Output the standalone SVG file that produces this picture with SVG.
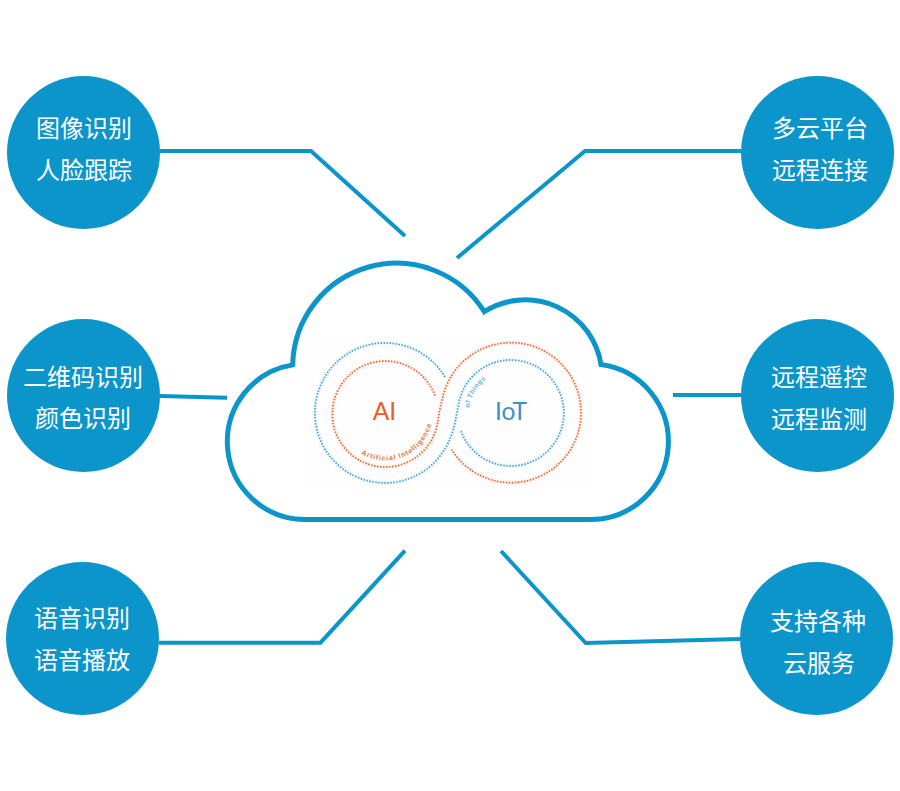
<svg xmlns="http://www.w3.org/2000/svg" xmlns:xlink="http://www.w3.org/1999/xlink" width="900" height="791" viewBox="0 0 900 791">
<style>
.node{fill:#0b95ca}
.lbl{fill:#fff;font-family:"Noto Sans CJK SC","Noto Sans",sans-serif;font-size:24px;text-anchor:middle}
.conn{fill:none;stroke:#0b95ca;stroke-width:4}
.dot{fill:none;stroke-width:1.700;stroke-dasharray:1.500 1.500}
.glow{fill:none;stroke-width:5;opacity:.06}
.or{stroke:#f0602a}
.bl{stroke:#3e9fd8}
.big{font-family:Lato,"Open Sans",sans-serif;font-size:24.500px;text-anchor:middle}
.arc{font-family:"Liberation Sans",sans-serif;font-weight:bold;font-size:7px}
</style>
<defs>
<path id="blueS" d="M445 377A70 70 0 1 0 451 436C455 427 456 416 458.300 406A53 53 0 1 1 461 431"/>
<path id="orangeS" d="M435 395.500A53 53 0 1 0 438 420C439 412 441 404 443 396A70 70 0 1 1 451.500 449.500"/>
<path id="aiArc" d="M339.500 426A47.500 47.500 0 0 0 432 405"/>
<path id="iotArc" d="M469 413A42 42 0 0 1 505 371.500"/>
</defs>
<rect width="900" height="791" fill="#fff"/>
<g id="connectors">
<path class="conn" d="M160 151H311L405 236"/>
<path class="conn" d="M741 151H585L457 258"/>
<path class="conn" d="M160 396L227 397.700"/>
<path class="conn" d="M741 395H673"/>
<path class="conn" d="M159 642.700H320.500L405 550.700"/>
<path class="conn" d="M501 551L585.700 643L740 639"/>
</g>
<g id="cloud">
<rect x="300" y="338" width="293" height="150" fill="#fefefe"/>
<path d="M305 519.500A77.800 77.800 0 0 1 292.700 364.900A103.800 103.800 0 0 1 484.300 311.700A76.700 76.700 0 0 1 601 364.600A77.800 77.800 0 0 1 590.500 519.500Z" fill="none" stroke="#0b95ca" stroke-width="5"/>
</g>
<g id="ai-iot">
<use xlink:href="#blueS" class="glow bl"/>
<use xlink:href="#orangeS" class="glow or"/>
<use xlink:href="#blueS" class="dot bl"/>
<use xlink:href="#orangeS" class="dot or"/>
<text class="big" x="384.500" y="419.500" fill="#ef5a24">AI</text>
<text class="big" x="511" y="419.500" fill="#3e8fc9">IoT</text>
<text class="arc" fill="#f0703a"><textPath xlink:href="#aiArc" startOffset="36" textLength="88" lengthAdjust="spacing">Artificial Intelligence</textPath></text>
<text class="arc" fill="#6fb4dc"><textPath xlink:href="#iotArc" startOffset="5" textLength="34" lengthAdjust="spacing">of Things</textPath></text>
</g>
<g id="n1"><circle class="node" cx="83.500" cy="152.500" r="76.500"/><text class="lbl" x="84" y="136.500">图像识别</text><text class="lbl" x="84" y="178.500">人脸跟踪</text></g>
<g id="n2"><circle class="node" cx="817.500" cy="152.500" r="76.500"/><text class="lbl" x="820" y="136.500">多云平台</text><text class="lbl" x="820" y="178.500">远程连接</text></g>
<g id="n3"><circle class="node" cx="83.500" cy="395.500" r="76.500"/><text class="lbl" x="83" y="385.500">二维码识别</text><text class="lbl" x="83" y="427">颜色识别</text></g>
<g id="n4"><circle class="node" cx="817.500" cy="395.500" r="76.500"/><text class="lbl" x="819" y="385.500">远程遥控</text><text class="lbl" x="819" y="427.500">远程监测</text></g>
<g id="n5"><circle class="node" cx="82.500" cy="638.500" r="76.500"/><text class="lbl" x="82" y="626.500">语音识别</text><text class="lbl" x="82" y="668.500">语音播放</text></g>
<g id="n6"><circle class="node" cx="816.500" cy="638.500" r="76.500"/><text class="lbl" x="818" y="629.500">支持各种</text><text class="lbl" x="819" y="671.500">云服务</text></g>
</svg>
